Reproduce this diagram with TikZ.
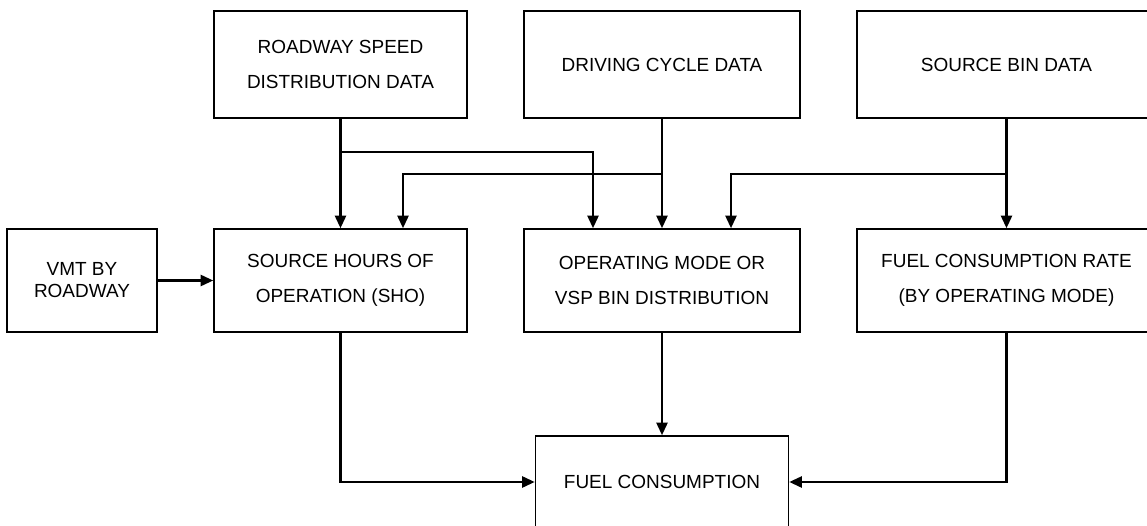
\documentclass[tikz,border=0pt]{standalone}
\usepackage{fontspec}
\setmainfont{Liberation Sans}
\usetikzlibrary{arrows.meta}

\begin{document}
\begin{tikzpicture}[
    box/.style={rectangle, draw, line width=0.9pt, align=center, minimum width=#1, font=\fontsize{10.8}{19.6}\selectfont},
    box/.default=5.06cm,
    arrow/.style={-{Triangle[length=0.25cm, width=0.22cm]}, line width=1.3pt}
]
    \useasboundingbox (0,0) rectangle (22.94,10.5);

    \node[box, minimum height=2.14cm] (rsd) at (6.81,9.21) {ROADWAY SPEED\\DISTRIBUTION DATA};
    \node[box=5.52cm, minimum height=2.14cm] (dcd) at (13.24,9.21) {DRIVING CYCLE DATA};
    \node[box=5.98cm, minimum height=2.14cm] (sbd) at (20.13,9.21) {SOURCE BIN DATA};

    \node[box=3cm, minimum height=2.06cm, font=\fontsize{10.8}{12.5}\selectfont] (vmt) at (1.64,4.89) {VMT BY\\ROADWAY};
    \node[box, minimum height=2.06cm] (sho) at (6.81,4.89) {SOURCE HOURS OF\\OPERATION (SHO)};
    \node[box=5.52cm, minimum height=2.06cm] (opm) at (13.24,4.89) {OPERATING MODE OR\\VSP BIN DISTRIBUTION};
    \node[box=5.98cm, minimum height=2.06cm] (fcr) at (20.13,4.89) {FUEL CONSUMPTION RATE\\(BY OPERATING MODE)};

    \node[box, minimum height=1.84cm] (fc) at (13.24,0.86) {FUEL CONSUMPTION};

    \draw[arrow] (rsd.south) -- (sho.north);
    \draw[arrow] (rsd.south) -- ++(0,-0.66) -| ([xshift=-1.38cm]opm.north);
    \draw[arrow] (dcd.south) -- (opm.north);
    \draw[arrow] (dcd.south) -- ++(0,-1.1) -| ([xshift=1.25cm]sho.north);
    \draw[arrow] (sbd.south) -- (fcr.north);
    \draw[arrow] (sbd.south) -- ++(0,-1.1) -| ([xshift=1.38cm]opm.north);

    \draw[arrow] (vmt.east) -- (sho.west);
    \draw[arrow] (sho.south) |- (fc.west);
    \draw[arrow] (opm.south) -- (fc.north);
    \draw[arrow] (fcr.south) |- (fc.east);
\end{tikzpicture}
\end{document}
